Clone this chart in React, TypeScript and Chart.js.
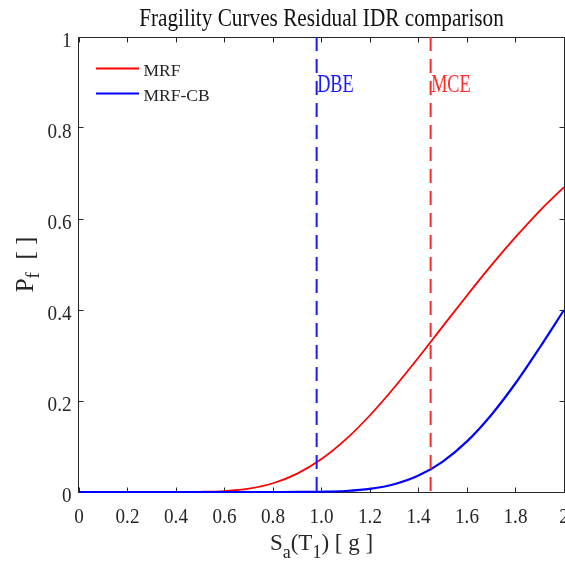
import React, { useEffect, useRef } from 'react';
import { Chart, registerables } from 'chart.js';

Chart.register(...registerables);

// ---- data ----
const sa = [0, 0.1, 0.2, 0.3, 0.4, 0.5, 0.6, 0.7, 0.8, 0.9, 1.0, 1.1, 1.2, 1.3, 1.4, 1.5, 1.6, 1.7, 1.8, 1.9, 2.0];
const pfMRF = [0, 0, 0, 0, 0.00004, 0.0004, 0.0021, 0.0074, 0.0192, 0.0403, 0.0723, 0.1155, 0.1687, 0.2297, 0.2956, 0.364, 0.432, 0.498, 0.56, 0.618, 0.67];
const pfMRFCB = [0, 0, 0, 0, 0, 0, 0, 0, 0.00001, 0.0001, 0.0006, 0.0022, 0.0068, 0.017, 0.036, 0.0669, 0.1112, 0.1693, 0.239, 0.3176, 0.4];
const seriesNames = ['MRF', 'MRF-CB'];
const seriesColors = ['#ff0000', '#0000ff'];
const levelNames = ['DBE', 'MCE'];
const levelValues = [0.98, 1.45];
const levelColors = ['#1a1aff', '#ff2a2a'];
const xTickValues = [0, 0.2, 0.4, 0.6, 0.8, 1.0, 1.2, 1.4, 1.6, 1.8, 2.0];
const xTickLabels = ['0', '0.2', '0.4', '0.6', '0.8', '1.0', '1.2', '1.4', '1.6', '1.8', '2'];
const yTickValues = [0, 0.2, 0.4, 0.6, 0.8, 1];
const yTickLabels = ['0', '0.2', '0.4', '0.6', '0.8', '1'];
const titleText = 'Fragility Curves Residual IDR comparison';

const SERIF = '"Liberation Serif", "Times New Roman", serif';
const AX = '#262626';

type Seg = { t: string; sub?: boolean };

function txt(ctx: CanvasRenderingContext2D, s: string, x: number, y: number, size: number, color: string, align: CanvasTextAlign, sx: number) {
  ctx.save();
  ctx.translate(x, y);
  ctx.scale(sx, 1);
  ctx.font = `${size}px ${SERIF}`;
  ctx.fillStyle = color;
  ctx.textAlign = align;
  ctx.textBaseline = 'alphabetic';
  ctx.fillText(s, 0, 0);
  ctx.restore();
}

function rich(ctx: CanvasRenderingContext2D, segs: Seg[], cx: number, cy: number, rot: number, sx: number, subOff: number, main: number, sub: number) {
  ctx.save();
  ctx.translate(cx, cy);
  ctx.rotate(rot);
  ctx.scale(sx, 1);
  ctx.fillStyle = AX;
  ctx.textAlign = 'left';
  ctx.textBaseline = 'alphabetic';
  const widths: number[] = [];
  let total = 0;
  for (const s of segs) {
    ctx.font = `${s.sub ? sub : main}px ${SERIF}`;
    const w = ctx.measureText(s.t).width;
    widths.push(w);
    total += w;
  }
  let x = -total / 2;
  segs.forEach((s, i) => {
    ctx.font = `${s.sub ? sub : main}px ${SERIF}`;
    ctx.fillText(s.t, x, s.sub ? subOff : 0);
    x += widths[i];
  });
  ctx.restore();
}

const boxPlugin = {
  id: 'matlabBox',
  beforeDatasetsDraw(chart: any) {
    const ctx: CanvasRenderingContext2D = chart.ctx;
    const { left, right, top, bottom } = chart.chartArea;
    const xs = chart.scales.x;
    const ys = chart.scales.y;
    const L = left - 0.5, R = right + 0.5, T = top + 0.5, B = bottom + 0.5;
    ctx.save();
    ctx.strokeStyle = AX;
    ctx.lineWidth = 1;
    ctx.beginPath();
    ctx.rect(L, T, R - L, B - T);
    ctx.stroke();
    ctx.beginPath();
    xTickValues.forEach((v) => {
      const p = Math.floor(xs.getPixelForValue(v)) + 0.5;
      ctx.moveTo(p, B); ctx.lineTo(p, B - 5);
      ctx.moveTo(p, T); ctx.lineTo(p, T + 5);
    });
    yTickValues.forEach((v) => {
      const p = Math.floor(ys.getPixelForValue(v)) + 0.5;
      ctx.moveTo(L, p); ctx.lineTo(L + 5, p);
      ctx.moveTo(R, p); ctx.lineTo(R - 5, p);
    });
    ctx.stroke();
    ctx.restore();
  },
  afterDraw(chart: any) {
    const ctx: CanvasRenderingContext2D = chart.ctx;
    const { left, right, top, bottom } = chart.chartArea;
    const xs = chart.scales.x;
    const ys = chart.scales.y;
    const cx = (left + right) / 2;
    // tick labels
    xTickValues.forEach((v, i) => {
      txt(ctx, xTickLabels[i], xs.getPixelForValue(v), 523, 22, AX, 'center', 0.87);
    });
    yTickValues.forEach((v, i) => {
      txt(ctx, yTickLabels[i], left - 7.5, ys.getPixelForValue(v) + 9.5, 22, AX, 'right', 0.87);
    });
    // title
    txt(ctx, titleText, cx, 26, 25, '#111', 'center', 0.85);
    // axis titles
    rich(ctx, [{ t: 'S' }, { t: 'a', sub: true }, { t: '(T' }, { t: '1', sub: true }, { t: ') [ g ]' }], cx, 550, 0, 1.0, 8, 23, 18);
    rich(ctx, [{ t: 'P' }, { t: 'f', sub: true }, { t: '  [ ]' }], 33, (top + bottom) / 2, -Math.PI / 2, 1.0, 6, 25, 19);
    // level labels
    levelNames.forEach((n, i) => {
      txt(ctx, n, xs.getPixelForValue(levelValues[i]) + 0.5, 91.5, 25, levelColors[i], 'left', 0.73);
    });
    // legend
    seriesNames.forEach((n, i) => {
      const y = 68.5 + i * 25;
      ctx.save();
      ctx.strokeStyle = seriesColors[i];
      ctx.lineWidth = 2;
      ctx.beginPath();
      ctx.moveTo(96, y);
      ctx.lineTo(139, y);
      ctx.stroke();
      ctx.restore();
      txt(ctx, n, 143.5, y + 7.5, 17.5, AX, 'left', 1);
    });
  },
};

export default function App() {
  const ref = useRef<HTMLCanvasElement | null>(null);
  useEffect(() => {
    document.body.style.margin = '0';
    document.body.style.overflow = 'hidden';
    const canvas = ref.current;
    if (!canvas) return;
    const levelSets = levelValues.map((v, i) => ({
      label: levelNames[i],
      data: [{ x: v, y: 1 }, { x: v, y: 0 }],
      borderColor: levelColors[i],
      borderWidth: 2,
      borderDash: [14, 8],
      pointRadius: 0,
      showLine: true,
      clip: false as any,
    }));
    const curveSets = [pfMRFCB, pfMRF].map((arr, k) => {
      const i = k === 0 ? 1 : 0;
      return {
        label: seriesNames[i],
        data: sa.map((x, j) => ({ x, y: arr[j] })),
        borderColor: seriesColors[i],
        borderWidth: i === 1 ? 2.2 : 1.8,
        pointRadius: 0,
        showLine: true,
        cubicInterpolationMode: 'monotone' as const,
        clip: false as any,
      };
    });
    const chart = new Chart(canvas, {
      type: 'scatter',
      data: { datasets: [...levelSets, ...curveSets] as any },
      options: {
        animation: false,
        responsive: false,
        maintainAspectRatio: false,
        layout: { padding: { top: 37, right: 1, left: 0, bottom: 0 } },
        plugins: { legend: { display: false }, title: { display: false }, tooltip: { enabled: false } },
        scales: {
          x: {
            type: 'linear', min: 0, max: 2,
            grid: { display: false, drawTicks: false },
            border: { display: false },
            ticks: { display: false, stepSize: 0.2 },
            afterFit(s: any) { s.height = 77; s.paddingLeft = 0; s.paddingRight = 0; s.paddingTop = 0; s.paddingBottom = 0; },
          },
          y: {
            type: 'linear', min: 0, max: 1,
            grid: { display: false, drawTicks: false },
            border: { display: false },
            ticks: { display: false, stepSize: 0.2 },
            afterFit(s: any) { s.width = 79; s.paddingLeft = 0; s.paddingRight = 0; s.paddingTop = 0; s.paddingBottom = 0; },
          },
        },
      } as any,
      plugins: [boxPlugin],
    });
    return () => chart.destroy();
  }, []);
  return (
    <div style={{ width: 565, height: 569, background: '#fff' }}>
      <canvas ref={ref} width={565} height={569} style={{ display: 'block' }} />
    </div>
  );
}
